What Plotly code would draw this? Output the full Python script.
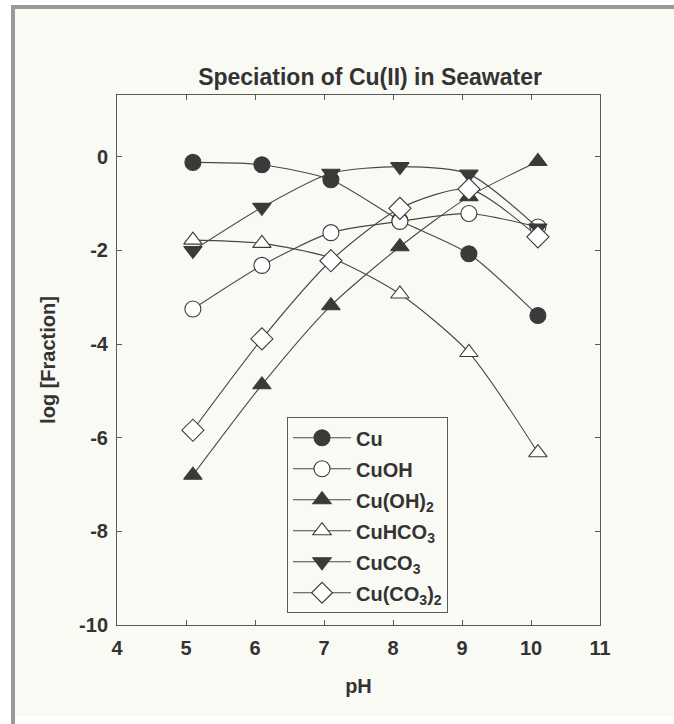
import plotly.graph_objects as go

# pH values at which each species fraction was computed
ph = [5.1, 6.1, 7.1, 8.1, 9.1, 10.1]

# log of the fraction of dissolved Cu(II) present as each species
cu = [-0.12, -0.17, -0.49, -1.36, -2.07, -3.39]
cuoh = [-3.25, -2.32, -1.62, -1.38, -1.21, -1.50]
cu_oh2 = [-6.80, -4.87, -3.18, -1.92, -0.85, -0.10]
cuhco3 = [-1.78, -1.85, -2.16, -2.93, -4.18, -6.32]
cuco3 = [-2.00, -1.08, -0.35, -0.21, -0.37, -1.52]
cu_co3_2 = [-5.84, -3.89, -2.22, -1.10, -0.69, -1.71]

species = ["Cu", "CuOH", "Cu(OH)<sub>2</sub>", "CuHCO<sub>3</sub>",
           "CuCO<sub>3</sub>", "Cu(CO<sub>3</sub>)<sub>2</sub>"]
x_ticks = [4, 5, 6, 7, 8, 9, 10, 11]
y_ticks = [0, -2, -4, -6, -8, -10]

INK = "#3a3a3a"
LINE = "#474747"
PAPER = "#fafaf5"

styles = [
    dict(symbol="circle", color=INK, size=16),
    dict(symbol="circle", color="white", size=16),
    dict(symbol="triangle-up", color=INK, size=16),
    dict(symbol="triangle-up", color="white", size=16),
    dict(symbol="triangle-down", color=INK, size=16),
    dict(symbol="diamond", color="white", size=17),
]

fig = go.Figure()
for name, vals, st in zip(species, [cu, cuoh, cu_oh2, cuhco3, cuco3, cu_co3_2], styles):
    fig.add_trace(go.Scatter(
        x=ph, y=vals, name=name, mode="lines+markers",
        legendgroup=name,
        line=dict(color=LINE, width=1.1, shape="spline", smoothing=0.7),
        marker=dict(symbol=st["symbol"], size=st["size"], color=st["color"],
                    line=dict(color=INK, width=1.1)),
    ))

FONT = dict(family="Liberation Sans, Arial, sans-serif", color="#333333", weight="bold")

axis_common = dict(
    showgrid=False, zeroline=False, showline=True, linecolor="#5a5a5a", linewidth=1,
    mirror="ticks", ticks="inside", ticklen=5, tickcolor="#5a5a5a", tickwidth=1,
    tickfont=dict(size=20, **FONT),
)

fig.update_layout(
    width=674, height=724,
    margin=dict(l=117, r=74, t=95, b=99),
    paper_bgcolor="white", plot_bgcolor=PAPER,
    title=dict(text="Speciation of Cu(II) in Seawater", x=0.549, xanchor="center",
               y=1 - 77 / 724, yanchor="middle", font=dict(size=23, **FONT)),
    xaxis=dict(range=[4, 11], tickvals=x_ticks, ticktext=[str(v) for v in x_ticks],
               ticklabelstandoff=5,
               title=dict(text="pH", font=dict(size=20, **FONT), standoff=20),
               **axis_common),
    yaxis=dict(range=[-10, 1.32], tickvals=y_ticks, ticktext=[str(v) for v in y_ticks],
               ticklabelstandoff=4,
               title=dict(text="log [Fraction]", font=dict(size=20, **FONT), standoff=18),
               **axis_common),
    legend=dict(x=0.352, y=0.392, xanchor="left", yanchor="top",
                bgcolor=PAPER, bordercolor="#5a5a5a", borderwidth=1,
                font=dict(size=20, **FONT), tracegroupgap=2,
                itemwidth=58),
    showlegend=True,
)

# scanned page background and the grey frame along its top and left edges
fig.add_shape(type="rect", xref="paper", yref="paper", layer="below",
              x0=(15 - 117) / 483, x1=(674 - 117) / 483,
              y0=(625 - 716) / 530, y1=(625 - 9) / 530,
              fillcolor=PAPER, line=dict(width=0))
fig.add_shape(type="rect", xref="paper", yref="paper", layer="below",
              x0=(11 - 117) / 483, x1=(15 - 117) / 483,
              y0=(625 - 724) / 530, y1=(625 - 5) / 530,
              fillcolor="#999999", line=dict(width=0))
fig.add_shape(type="rect", xref="paper", yref="paper", layer="below",
              x0=(11 - 117) / 483, x1=(674 - 117) / 483,
              y0=(625 - 9) / 530, y1=(625 - 5) / 530,
              fillcolor="#999999", line=dict(width=0))

fig.write_html("out.html")
